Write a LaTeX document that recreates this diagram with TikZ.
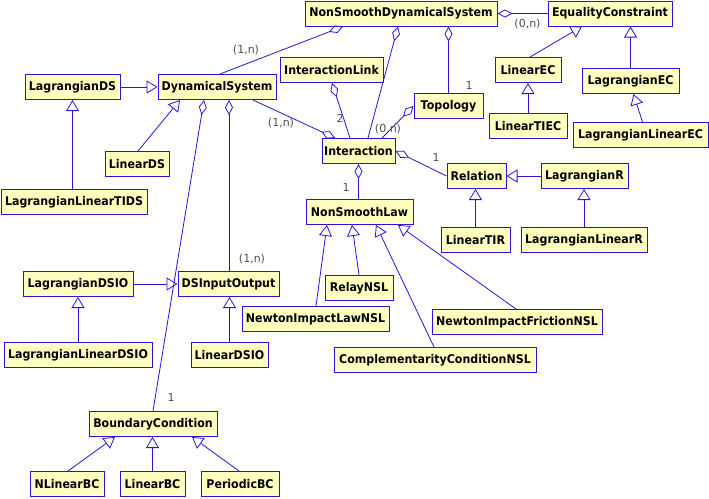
\documentclass[tikz,border=0pt]{standalone}
\usepackage{fontspec}
\setmainfont{DejaVu Sans}
\newfontfamily\clsfont{DejaVu Sans}[FakeStretch=0.92, BoldFeatures={FakeStretch=0.92}]
\usetikzlibrary{arrows.meta}
\definecolor{umlblue}{RGB}{40,20,220}
\definecolor{umlfill}{RGB}{255,255,192}
\definecolor{lblgray}{RGB}{80,80,80}
\tikzset{
 cls/.style={draw=umlblue, fill=umlfill, line width=1pt, minimum height=25pt, inner sep=0pt, font=\clsfont\bfseries\fontsize{12}{14}\selectfont},
 inh/.style={draw=umlblue, line width=0.8pt, -{Triangle[open,length=11pt,width=13pt,line width=0.8pt]}},
 agg/.style={draw=umlblue, line width=0.8pt, {Diamond[open,length=15pt,width=8pt,line width=0.8pt]}-},
 lbl/.style={text=lblgray, font=\fontsize{11}{13}\selectfont, inner sep=0pt}
}
\begin{document}
\begin{tikzpicture}[x=1pt,y=-1pt]
\useasboundingbox[fill=white] (0,0) rectangle (709,498);
% classes
\node[cls, minimum width=192pt] (nsds) at (401,13.5) {NonSmoothDynamicalSystem};
\node[cls, minimum width=124pt] (ec) at (610,13.5) {EqualityConstraint};
\node[cls, minimum width=66pt] (linec) at (528,70) {LinearEC};
\node[cls, minimum width=97pt] (lagec) at (630.5,81) {LagrangianEC};
\node[cls, minimum width=78pt] (lintiec) at (528,126) {LinearTIEC};
\node[cls, minimum width=135pt] (laglinec) at (640.5,135) {LagrangianLinearEC};
\node[cls, minimum width=95pt] (lagds) at (72.5,87) {LagrangianDS};
\node[cls, minimum width=118pt] (ds) at (217,87) {DynamicalSystem};
\node[cls, minimum width=64pt] (linds) at (137,164) {LinearDS};
\node[cls, minimum width=146pt] (lagltids) at (74,202) {LagrangianLinearTIDS};
\node[cls, minimum width=103pt] (ilink) at (331.5,70) {InteractionLink};
\node[cls, minimum width=69pt] (topo) at (448.5,106) {Topology};
\node[cls, minimum width=73pt] (inter) at (358.5,151) {Interaction};
\node[cls, minimum width=59pt] (rel) at (476.5,176) {Relation};
\node[cls, minimum width=87pt] (lagr) at (584.5,176) {LagrangianR};
\node[cls, minimum width=107pt] (nsl) at (359.5,212) {NonSmoothLaw};
\node[cls, minimum width=69pt] (lintir) at (475.5,240) {LinearTIR};
\node[cls, minimum width=126pt] (laglinr) at (584,240) {LagrangianLinearR};
\node[cls, minimum width=68pt] (relay) at (359,288) {RelayNSL};
\node[cls, minimum width=147pt] (nilnsl) at (315.5,319) {NewtonImpactLawNSL};
\node[cls, minimum width=170pt] (nifnsl) at (517,322) {NewtonImpactFrictionNSL};
\node[cls, minimum width=202pt] (ccnsl) at (435,360) {ComplementarityConditionNSL};
\node[cls, minimum width=110pt] (lagdsio) at (78,284) {LagrangianDSIO};
\node[cls, minimum width=101pt] (dsio) at (228.5,284) {DSInputOutput};
\node[cls, minimum width=148pt] (laglindsio) at (78,355) {LagrangianLinearDSIO};
\node[cls, minimum width=77pt] (lindsio) at (229.5,355) {LinearDSIO};
\node[cls, minimum width=128pt] (bc) at (153,424) {BoundaryCondition};
\node[cls, minimum width=74pt] (nlbc) at (67,484) {NLinearBC};
\node[cls, minimum width=65pt] (linbc) at (152.5,484) {LinearBC};
\node[cls, minimum width=78pt] (perbc) at (240,484) {PeriodicBC};
% aggregations
\draw[agg] ([xshift=-58pt]nsds.south) -- ([xshift=3pt]ds.north);
\draw[agg] ([xshift=-3pt]nsds.south) -- ([xshift=9.5pt]inter.north);
\draw[agg] (nsds.south -| topo.north) -- (topo.north);
\draw[agg] (nsds.east) -- (ec.west);
\draw[agg] ([xshift=0.5pt]ilink.south) -- ([xshift=-8.5pt]inter.north);
\draw[agg] ([xshift=-23.5pt]inter.north) -- ([xshift=36pt]ds.south);
\draw[agg] (topo.west) -- ([xshift=23.5pt]inter.north);
\draw[agg] (inter.east) -- (rel.west);
\draw[agg] (inter.south) -- (inter.south |- nsl.north);
\draw[agg] ([xshift=-13pt]ds.south) -- (bc.north);
\draw[agg] ([xshift=12pt]ds.south) -- ([xshift=12pt]ds.south |- dsio.north);
% multiplicities
\node[lbl] (m1) at (246,50) {(1,n)};
\node[lbl] (m2) at (281,123) {(1,n)};
\node[lbl] (m3) at (469,85) {1};
\node[lbl] (m4) at (340,118) {2};
\node[lbl] (m5) at (388,129) {(0,n)};
\node[lbl] (m6) at (527.5,24) {(0,n)};
\node[lbl] (m7) at (436,157) {1};
\node[lbl] (m8) at (346,187) {1};
\node[lbl] (m9) at (252,259) {(1,n)};
\node[lbl] (m10) at (171,397) {1};
% inheritance
\draw[inh] (lagds.east) -- (ds.west);
\draw[inh] ([xshift=1pt]linds.north) -- ([xshift=-37pt]ds.south);
\draw[inh] (lagltids.north -| lagds.south) -- (lagds.south);
\draw[inh] ([xshift=2pt]linec.north) -- ([xshift=-28pt]ec.south);
\draw[inh] (lagec.north) -- (lagec.north |- ec.south);
\draw[inh] (lintiec.north) -- (lintiec.north |- linec.south);
\draw[inh] ([xshift=2pt]laglinec.north) -- ([xshift=3pt]lagec.south);
\draw[inh] (lagr.west) -- (rel.east);
\draw[inh] (lintir.north) -- (lintir.north |- rel.south);
\draw[inh] (laglinr.north) -- (laglinr.north |- lagr.south);
\draw[inh] ([xshift=0.5pt]nilnsl.north) -- ([xshift=-32.5pt]nsl.south);
\draw[inh] (relay.north) -- ([xshift=-7.5pt]nsl.south);
\draw[inh] ([xshift=-1pt]ccnsl.north) -- ([xshift=16.5pt]nsl.south);
\draw[inh] ([xshift=-1pt]nifnsl.north) -- ([xshift=38.5pt]nsl.south);
\draw[inh] (lagdsio.east) -- (dsio.west);
\draw[inh] (laglindsio.north) -- (laglindsio.north |- lagdsio.south);
\draw[inh] (lindsio.north) -- (lindsio.north |- dsio.south);
\draw[inh] ([xshift=1pt]nlbc.north) -- ([xshift=-38pt]bc.south);
\draw[inh] (linbc.north) -- (linbc.north |- bc.south);
\draw[inh] ([xshift=-1pt]perbc.north) -- ([xshift=39pt]bc.south);
\end{tikzpicture}
\end{document}
